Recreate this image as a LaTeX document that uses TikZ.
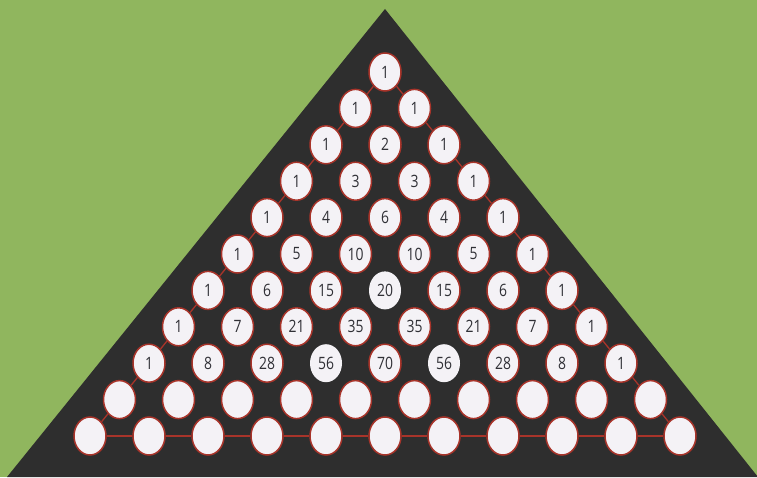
\documentclass[tikz,border=0pt]{standalone}
\usepackage{fontspec}
\usetikzlibrary{shapes.geometric}
\newfontfamily\numfont{Open Sans}[FakeStretch=0.82]
\definecolor{leaf}{RGB}{144,182,94}
\definecolor{slate}{RGB}{46,46,46}
\definecolor{rim}{RGB}{168,52,42}
\definecolor{pearl}{RGB}{244,242,246}
\definecolor{ink}{RGB}{48,48,54}
\tikzset{
  bulb/.style={ellipse, draw=rim, line width=1.5pt, fill=pearl,
    minimum width=32pt, minimum height=38pt, inner sep=0pt,
    text=ink, font=\numfont\fontsize{17}{17}\selectfont},
  bare/.style={draw=none},
  wire/.style={draw=rim, line width=1.3pt},
  % the three lamps without a rim
  hole 6-3/.style=bare,
  hole 8-3/.style=bare,
  hole 8-5/.style=bare
}
\begin{document}
\begin{tikzpicture}[x=1pt,y=1pt]
\fill[leaf] (0,0) rectangle (757,477);
\useasboundingbox (0,0) rectangle (757,477);
\fill[slate] (385,468) -- (758,0) -- (7,0) -- cycle;
% rows with numbers
\foreach \vals [count=\r from 0] in {{1},{1,1},{1,2,1},{1,3,3,1},{1,4,6,4,1},
    {1,5,10,10,5,1},{1,6,15,20,15,6,1},{1,7,21,35,35,21,7,1},
    {1,8,28,56,70,56,28,8,1}}{
  \foreach \v [count=\k from 0] in \vals{
    \node[bulb, hole \r-\k/.try] (c-\r-\k) at ({385+(2*\k-\r)*29.5},{405-36.4*\r}) {\v};
  }
}
% empty rows
\foreach \r in {9,10}{
  \foreach \k in {0,...,\r}{
    \node[bulb] (c-\r-\k) at ({385+(2*\k-\r)*29.5},{405-36.4*\r}) {};
  }
}
% red wires along the rim
\foreach \r [evaluate=\r as \s using int(\r+1)] in {0,...,9}{
  \draw[wire] (c-\r-0) -- (c-\s-0);
  \draw[wire] (c-\r-\r) -- (c-\s-\s);
  \draw[wire] (c-10-\r) -- (c-10-\s);
}
\end{tikzpicture}
\end{document}
